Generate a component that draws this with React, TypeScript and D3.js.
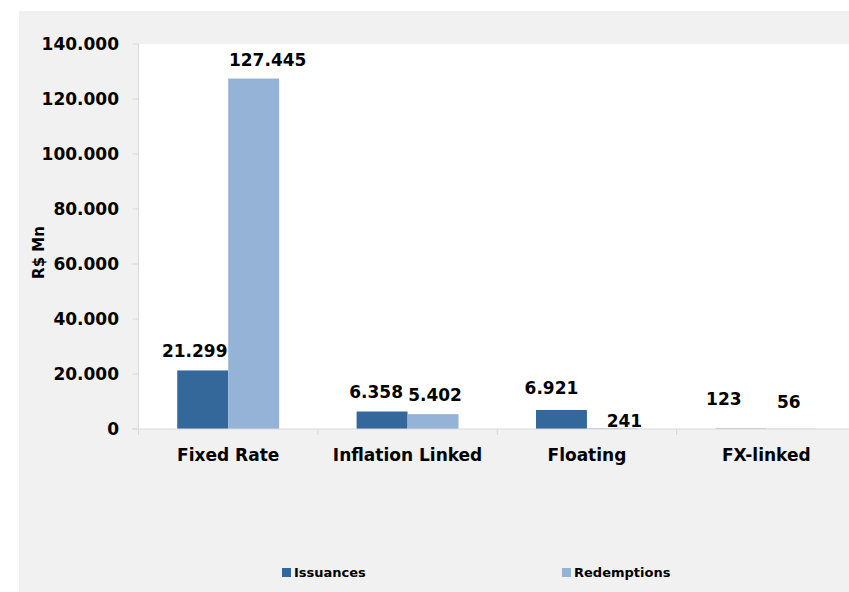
import React from "react";
import * as d3 from "d3";

const categories = ["Fixed Rate", "Inflation Linked", "Floating", "FX-linked"];
const seriesNames = ["Issuances", "Redemptions"];
const issuances = [21299, 6358, 6921, 123];
const redemptions = [127445, 5402, 241, 56];
const yTicks = [0, 20000, 40000, 60000, 80000, 100000, 120000, 140000];

const colors = ["#34679a", "#95b3d7"];
const fmt = (v: number) => d3.format(",")(v).replace(/,/g, ".");

// small nudges for individual value labels [dx, dy]
const labelNudge: Record<string, [number, number]> = {
  "0-0": [-8, 0],
  "0-1": [14, 0],
  "1-0": [-6, -1],
  "1-1": [2, 0],
  "2-0": [-10, -3],
  "2-1": [12, 12],
  "3-0": [-17, -11],
  "3-1": [-3, -8],
};

export default function App() {
  const W = 849;
  const H = 592;
  const plotLeft = 138.5;
  const plotRight = 856;
  const plotTop = 44;
  const plotBottom = 429;

  const x = d3.scaleBand<string>().domain(categories).range([plotLeft, plotRight]).paddingInner(0).paddingOuter(0);
  const xs = d3.scaleBand<string>().domain(seriesNames).range([0, x.bandwidth()]).paddingInner(0).paddingOuter(0.76);
  const y = d3.scaleLinear().domain([0, 140000]).range([plotBottom, plotTop]);

  const series = [issuances, redemptions];
  const font = "'DejaVu Sans', Verdana, sans-serif";

  return (
    <svg width={W} height={H} style={{ position: "absolute", left: 0, top: 0 }} fontFamily={font}>
      <rect x={0} y={0} width={W} height={H} fill="#ffffff" />
      <rect x={19} y={11} width={W - 19} height={H - 11} fill="#f1f1f1" />
      <rect x={plotLeft} y={plotTop} width={W - plotLeft} height={plotBottom - plotTop} fill="#ffffff" />

      {/* y axis */}
      <line x1={plotLeft} x2={plotLeft} y1={plotTop} y2={plotBottom + 6} stroke="#d9d9d9" />
      {yTicks.map((t) => (
        <g key={t}>
          <line x1={plotLeft - 6} x2={plotLeft} y1={y(t)} y2={y(t)} stroke="#d9d9d9" />
          <text x={119} y={y(t)} dy="0.36em" textAnchor="end" fontSize={17} fontWeight="bold" fill="#000">
            {fmt(t)}
          </text>
        </g>
      ))}
      <text
        transform={`translate(44, ${(plotTop + plotBottom) / 2 + 16}) rotate(-90)`}
        textAnchor="middle"
        fontSize={15}
        fontWeight="bold"
        fill="#000"
      >
        R$ Mn
      </text>

      {/* bars */}
      {categories.map((c, i) => (
        <g key={c}>
          {series.map((s, j) => {
            const bx = (x(c) as number) + (xs(seriesNames[j]) as number);
            const v = s[i];
            return (
              <rect key={j} x={bx} y={y(v)} width={xs.bandwidth()} height={plotBottom - y(v)} fill={colors[j]} />
            );
          })}
        </g>
      ))}

      {/* x axis */}
      <line x1={plotLeft - 6} x2={W} y1={plotBottom} y2={plotBottom} stroke="#d9d9d9" />
      {categories.map((c) => (
        <line key={c} x1={x(c) as number} x2={x(c) as number} y1={plotBottom} y2={plotBottom + 6} stroke="#d9d9d9" />
      ))}
      {categories.map((c) => (
        <text
          key={c}
          x={(x(c) as number) + x.bandwidth() / 2}
          y={461}
          textAnchor="middle"
          fontSize={17}
          fontWeight="bold"
          fill="#000"
        >
          {c}
        </text>
      ))}

      {/* value labels */}
      {categories.map((c, i) =>
        series.map((s, j) => {
          const v = s[i];
          const cx = (x(c) as number) + (xs(seriesNames[j]) as number) + xs.bandwidth() / 2;
          const [dx, dy] = labelNudge[`${i}-${j}`] || [0, 0];
          return (
            <text
              key={`${i}-${j}`}
              x={cx + dx}
              y={y(v) - 13 + dy}
              textAnchor="middle"
              fontSize={17}
              fontWeight="bold"
              fill="#000"
            >
              {fmt(v)}
            </text>
          );
        })
      )}

      {/* legend */}
      {seriesNames.map((n, j) => {
        const lx = j === 0 ? 282 : 562;
        return (
          <g key={n}>
            <rect x={lx} y={568} width={9} height={9} fill={colors[j]} />
            <text x={lx + 12} y={577} fontSize={13} fontWeight="bold" fill="#000">
              {n}
            </text>
          </g>
        );
      })}
    </svg>
  );
}
